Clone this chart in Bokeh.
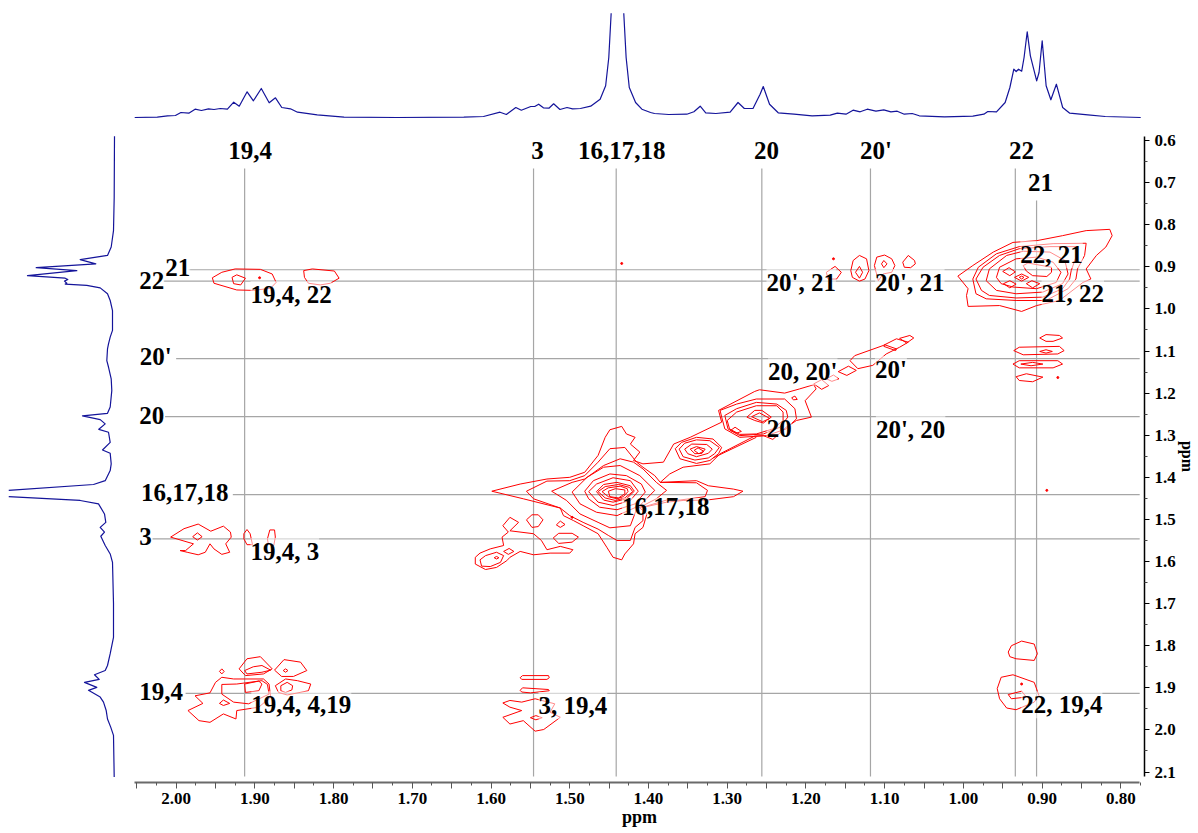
from math import nan
from bokeh.plotting import figure
from bokeh.layouts import column, row
from bokeh.models import (ColumnDataSource, FixedTicker, LabelSet, PrintfTickFormatter, Range1d, Spacer)
from bokeh.embed import file_html
from bokeh.resources import INLINE

# ---------- 1D projections: (ppm, intensity) ----------
top_ppm = [2.053,2.024,2.011,2.001,1.994,1.984,1.976,1.968,1.959,1.952,1.944,1.935,1.927,1.920,1.910,1.902,1.892,1.882,1.874,1.866,1.855,1.846,1.821,1.787,1.720,1.635,1.610,1.589,1.581,1.569,1.562,1.550,1.545,1.540,1.534,1.527,1.521,1.513,1.504,1.497,1.487,1.474,1.462,1.455,1.451,1.448,nan,1.432,1.429,1.425,1.417,1.409,1.398,1.393,1.375,1.352,1.343,1.335,1.328,1.315,1.297,1.287,1.279,1.268,1.259,1.255,1.247,1.236,1.216,1.193,1.170,1.161,1.150,1.141,1.132,1.123,1.112,1.102,1.093,1.085,1.076,1.066,1.057,1.025,0.989,0.975,0.970,0.959,0.948,0.942,0.937,0.934,0.931,0.927,0.924,0.920,0.916,0.908,0.905,0.901,0.896,0.890,0.883,0.875,0.866,0.843,0.821,0.776]
top_int = [0,0.3,1.7,2,5,4.3,8.3,7,8.7,8,9,8.3,15.3,11.3,25.7,16.7,29,14.7,19.7,10,8.7,5.3,2.7,0.3,0,0.3,1,5.3,3,10,7.3,11,11,13.3,9.7,9.3,13.7,8,10,8.7,9,11.3,18.3,31.7,60,104.3,nan,104.3,60,30,15,8.3,5,4,3,3.3,5.7,11.3,4.7,4,5.3,15,9,9,23.3,31,13.3,4.7,3.3,1.7,2.3,4.3,3.3,7.3,5.7,8.3,6.3,7.7,5.7,6.3,3.3,4,1.7,0.7,1.3,3.3,6,5.7,15,30,48.3,46,48.3,46.3,60,85.7,61.7,36.7,45,76.7,31.7,17.7,33.3,10,4.3,2.7,1,0]

left_ppm = [0.590,0.735,0.814,0.853,0.873,0.883,0.893,0.902,0.909,0.921,0.927,0.930,0.934,0.939,0.941,0.944,0.950,0.964,0.980,1.004,1.051,1.067,1.083,1.095,1.123,1.138,1.166,1.194,1.233,1.248,1.254,1.263,1.273,1.286,1.293,1.317,1.335,1.343,1.368,1.384,1.408,1.417,1.431,nan,1.446,1.455,1.463,1.487,1.507,1.519,1.530,1.540,1.562,1.582,1.602,1.700,1.780,1.819,1.847,1.859,1.869,1.880,1.887,1.899,1.906,1.922,1.934,1.954,1.974,1.994,2.013,2.112]
left_int = [0,0.3,1,3.3,7,34.3,18.7,78.3,37.7,87,49.3,46.7,50,47.7,49.3,27.7,14.3,7,4.3,2,2,4.3,6,7,7.7,6,3.3,2.7,4.3,7,32,14.3,9.3,15.7,6,4.3,12,4.3,3.3,4.3,9.3,21,106,nan,106,34.3,16,10,8.7,14.3,10,13.7,9.3,4.3,2,1,1,4.3,7,9.3,20,15.3,30,17.7,26,14.3,11,8.3,7,3.7,1,0.3]

# ---------- Contours, (F2 ppm, F1 ppm) ----------
cross_161718 = [
 [(1.599,1.433),(1.563,1.416),(1.529,1.404),(1.500,1.400),(1.481,1.388),(1.464,1.348),(1.455,1.305),(1.449,1.287),(1.434,1.279),(1.428,1.297),(1.417,1.305),(1.423,1.321),(1.411,1.340),(1.419,1.360),(1.407,1.368),(1.381,1.364),(1.368,1.321),(1.347,1.305),(1.307,1.269),(1.311,1.241),(1.265,1.196),(1.259,1.192),(1.227,1.200),(1.208,1.190),(1.190,1.180),(1.187,1.190),(1.201,1.218),(1.193,1.257),(1.212,1.265),(1.225,1.281),(1.242,1.310),(1.254,1.301),(1.265,1.302),(1.309,1.344),(1.322,1.368),(1.356,1.376),(1.373,1.392),(1.385,1.412),(1.339,1.408),(1.324,1.420),(1.292,1.428),(1.280,1.433),(1.292,1.446),(1.326,1.454),(1.356,1.455),(1.377,1.459),(1.411,1.473),(1.402,1.487),(1.407,1.519),(1.417,1.534),(1.419,1.558),(1.430,1.582),(1.434,1.596),(1.445,1.590),(1.453,1.566),(1.464,1.534),(1.483,1.515),(1.495,1.503),(1.508,1.491),(1.512,1.473),(1.559,1.451),(1.599,1.433)],
 [(1.555,1.433),(1.529,1.409),(1.500,1.408),(1.481,1.396),(1.464,1.364),(1.449,1.332),(1.430,1.329),(1.415,1.364),(1.407,1.376),(1.392,1.396),(1.385,1.412),(1.339,1.413),(1.325,1.431),(1.328,1.446),(1.360,1.454),(1.377,1.454),(1.407,1.471),(1.407,1.503),(1.417,1.519),(1.423,1.550),(1.440,1.550),(1.451,1.538),(1.464,1.523),(1.483,1.507),(1.500,1.491),(1.512,1.473),(1.546,1.451),(1.555,1.433)],
 [(1.523,1.433),(1.497,1.412),(1.481,1.404),(1.457,1.372),(1.436,1.356),(1.419,1.364),(1.407,1.380),(1.390,1.412),(1.377,1.431),(1.390,1.451),(1.415,1.475),(1.423,1.515),(1.449,1.520),(1.464,1.507),(1.487,1.487),(1.504,1.455),(1.523,1.433)],
 [(1.497,1.435),(1.478,1.400),(1.457,1.376),(1.436,1.372),(1.411,1.396),(1.392,1.431),(1.411,1.467),(1.440,1.491),(1.466,1.483),(1.487,1.463),(1.497,1.435)],
 [(1.481,1.433),(1.470,1.408),(1.449,1.392),(1.428,1.396),(1.409,1.416),(1.404,1.435),(1.417,1.463),(1.440,1.477),(1.462,1.471),(1.476,1.451),(1.481,1.433)],
 [(1.476,1.434),(1.466,1.416),(1.445,1.401),(1.423,1.408),(1.413,1.433),(1.423,1.455),(1.445,1.467),(1.464,1.459),(1.476,1.434)],
 [(1.466,1.434),(1.457,1.417),(1.440,1.412),(1.423,1.420),(1.418,1.433),(1.428,1.451),(1.445,1.459),(1.457,1.454),(1.466,1.434)],
 [(1.464,1.434),(1.455,1.422),(1.438,1.417),(1.424,1.424),(1.420,1.434),(1.430,1.449),(1.442,1.455),(1.455,1.449),(1.464,1.434)],
 [(1.459,1.434),(1.451,1.425),(1.436,1.421),(1.427,1.427),(1.426,1.434),(1.432,1.446),(1.440,1.451),(1.451,1.446),(1.459,1.434)],
 [(1.451,1.433),(1.442,1.427),(1.430,1.430),(1.430,1.439),(1.438,1.449),(1.449,1.446),(1.451,1.433)],
]
region_h3 = [
 [(1.620,1.590),(1.614,1.580),(1.601,1.570),(1.584,1.562),(1.586,1.542),(1.578,1.530),(1.585,1.515),(1.576,1.495),(1.565,1.507),(1.576,1.527),(1.546,1.534),(1.536,1.550),(1.529,1.572),(1.512,1.564),(1.496,1.572),(1.500,1.580),(1.525,1.580),(1.546,1.584),(1.563,1.576),(1.576,1.590),(1.580,1.598),(1.593,1.614),(1.607,1.619),(1.620,1.606),(1.620,1.590)],
 [(1.555,1.501),(1.548,1.489),(1.540,1.489),(1.534,1.501),(1.540,1.517),(1.548,1.519),(1.555,1.501)],
 [(1.517,1.513),(1.512,1.504),(1.506,1.512),(1.512,1.519),(1.517,1.513)],
 [(1.521,1.544),(1.514,1.533),(1.497,1.533),(1.489,1.542),(1.497,1.554),(1.514,1.557),(1.521,1.544)],
 [(1.584,1.576),(1.577,1.569),(1.571,1.576),(1.578,1.583),(1.584,1.576)],
 [(1.614,1.596),(1.607,1.586),(1.593,1.578),(1.584,1.586),(1.588,1.602),(1.601,1.612),(1.612,1.611),(1.614,1.596)],
 [(1.596,1.591),(1.593,1.588),(1.590,1.591),(1.593,1.594),(1.596,1.591)],
]
blob_20 = [
 [(1.309,1.241),(1.288,1.226),(1.263,1.214),(1.227,1.214),(1.214,1.237),(1.212,1.261),(1.225,1.285),(1.250,1.301),(1.284,1.305),(1.303,1.285),(1.307,1.257),(1.309,1.241)],
 [(1.303,1.253),(1.288,1.237),(1.263,1.222),(1.237,1.226),(1.225,1.241),(1.223,1.257),(1.233,1.281),(1.254,1.297),(1.284,1.301),(1.299,1.285),(1.303,1.253)],
 [(1.300,1.265),(1.288,1.245),(1.263,1.230),(1.237,1.230),(1.229,1.245),(1.229,1.265),(1.242,1.285),(1.263,1.297),(1.284,1.298),(1.297,1.285),(1.300,1.265)],
 [(1.275,1.257),(1.265,1.241),(1.256,1.241),(1.244,1.257),(1.254,1.271),(1.265,1.265),(1.275,1.257)],
 [(1.269,1.256),(1.259,1.247),(1.246,1.260),(1.255,1.268),(1.269,1.256)],
 [(1.296,1.289),(1.290,1.281),(1.282,1.291),(1.288,1.295),(1.296,1.289)],
 [(1.218,1.211),(1.214,1.207),(1.211,1.215),(1.216,1.216),(1.218,1.211)],
 [(1.318,1.354),(1.263,1.305)],
]
blob_134 = [
 [(1.366,1.332),(1.358,1.317),(1.339,1.305),(1.318,1.309),(1.307,1.329),(1.311,1.344),(1.322,1.360),(1.339,1.367),(1.360,1.356),(1.366,1.332)],
 [(1.361,1.333),(1.354,1.319),(1.339,1.311),(1.322,1.313),(1.310,1.329),(1.316,1.344),(1.324,1.354),(1.341,1.359),(1.356,1.351),(1.361,1.333)],
 [(1.354,1.333),(1.345,1.321),(1.326,1.322),(1.319,1.333),(1.324,1.343),(1.339,1.351),(1.350,1.344),(1.354,1.333)],
 [(1.347,1.333),(1.339,1.327),(1.328,1.333),(1.332,1.343),(1.341,1.344),(1.347,1.333)],
 [(1.342,1.336),(1.337,1.330),(1.330,1.338),(1.336,1.344),(1.342,1.336)],
]
diagonal_20p = [
 [(1.144,1.123),(1.138,1.111),(1.102,1.087),(1.085,1.071),(1.070,1.079),(1.081,1.091),(1.098,1.107),(1.115,1.134),(1.134,1.142),(1.144,1.123)],
 [(1.100,1.085),(1.085,1.095),(1.086,1.099),(1.101,1.089),(1.100,1.085)],
 [(1.081,1.070),(1.068,1.063),(1.063,1.069),(1.072,1.081),(1.081,1.070)],
 [(1.159,1.149),(1.146,1.136),(1.136,1.146),(1.148,1.158),(1.159,1.149)],
 [(1.174,1.166),(1.165,1.157),(1.158,1.166),(1.167,1.172),(1.174,1.166)],
 [(1.190,1.178),(1.180,1.168),(1.171,1.182),(1.180,1.191),(1.190,1.178)],
]
cross_2021 = [
 [(1.143,0.909),(1.140,0.885),(1.132,0.873),(1.123,0.881),(1.120,0.909),(1.125,0.929),(1.132,0.934),(1.141,0.925),(1.143,0.909)],
 [(1.137,0.913),(1.132,0.899),(1.128,0.913),(1.132,0.927),(1.137,0.913)],
 [(1.113,0.897),(1.110,0.877),(1.100,0.872),(1.091,0.881),(1.087,0.897),(1.091,0.913),(1.102,0.917),(1.108,0.933),(1.113,0.897)],
 [(1.104,0.893),(1.101,0.885),(1.097,0.893),(1.101,0.902),(1.104,0.893)],
 [(1.077,0.889),(1.070,0.873),(1.062,0.885),(1.061,0.893),(1.067,0.902),(1.075,0.901),(1.077,0.889)],
 [(1.174,0.913),(1.163,0.899),(1.155,0.913),(1.161,0.929),(1.172,0.929),(1.174,0.913)],
]
peak_2221 = [
 [(1.007,0.922),(0.988,0.897),(0.962,0.865),(0.937,0.842),(0.907,0.838),(0.874,0.826),(0.844,0.814),(0.814,0.811),(0.811,0.826),(0.819,0.853),(0.831,0.873),(0.844,0.905),(0.838,0.929),(0.848,0.937),(0.878,0.980),(0.907,0.992),(0.926,1.006),(0.954,0.992),(0.994,0.994),(0.996,0.968),(0.994,0.952),(1.007,0.922)],
 [(0.988,0.929),(0.981,0.901),(0.958,0.869),(0.929,0.852),(0.886,0.845),(0.844,0.844),(0.846,0.873),(0.855,0.905),(0.857,0.929),(0.867,0.952),(0.895,0.980),(0.933,0.980),(0.971,0.976),(0.984,0.964),(0.988,0.929)],
 [(0.984,0.929),(0.975,0.901),(0.954,0.873),(0.929,0.857),(0.890,0.852),(0.855,0.852),(0.857,0.877),(0.863,0.909),(0.865,0.929),(0.874,0.952),(0.899,0.972),(0.933,0.974),(0.967,0.968),(0.977,0.956),(0.984,0.929)],
 [(0.971,0.933),(0.967,0.905),(0.945,0.873),(0.924,0.863),(0.890,0.865),(0.871,0.885),(0.867,0.917),(0.874,0.940),(0.899,0.960),(0.933,0.964),(0.958,0.956),(0.971,0.933)],
 [(0.958,0.925),(0.954,0.901),(0.933,0.881),(0.907,0.877),(0.886,0.889),(0.876,0.913),(0.882,0.937),(0.907,0.952),(0.937,0.948),(0.952,0.940),(0.958,0.925)],
 [(0.924,0.897),(0.918,0.891),(0.888,0.901),(0.888,0.913),(0.894,0.923),(0.912,0.921),(0.920,0.910),(0.924,0.897)],
 [(0.950,0.911),(0.942,0.902),(0.934,0.912),(0.941,0.921),(0.950,0.911)],
 [(0.949,0.940),(0.941,0.933),(0.933,0.941),(0.941,0.950),(0.949,0.940)],
 [(0.935,0.925),(0.926,0.917),(0.917,0.925),(0.926,0.934),(0.935,0.925)],
 [(0.929,0.925),(0.926,0.922),(0.923,0.925),(0.926,0.929),(0.929,0.925)],
 [(0.920,0.940),(0.913,0.933),(0.903,0.940),(0.912,0.950),(0.920,0.940)],
]
column_22_20p = [
 [(0.903,1.069),(0.895,1.061),(0.878,1.063),(0.874,1.069),(0.886,1.077),(0.895,1.077),(0.903,1.069)],
 [(0.936,1.099),(0.929,1.091),(0.878,1.089),(0.872,1.099),(0.880,1.107),(0.924,1.109),(0.936,1.099)],
 [(0.903,1.101),(0.895,1.097),(0.887,1.101),(0.895,1.105),(0.903,1.101)],
 [(0.937,1.131),(0.929,1.123),(0.880,1.123),(0.874,1.131),(0.886,1.140),(0.929,1.140),(0.937,1.131)],
 [(0.927,1.131),(0.912,1.127),(0.899,1.131),(0.914,1.135),(0.927,1.131)],
 [(0.933,1.161),(0.920,1.154),(0.899,1.162),(0.912,1.173),(0.929,1.170),(0.933,1.161)],
]
column_194_upper = [
 [(1.954,0.926),(1.942,0.913),(1.925,0.905),(1.893,0.906),(1.878,0.917),(1.873,0.937),(1.880,0.951),(1.902,0.956),(1.923,0.955),(1.952,0.939),(1.954,0.926)],
 [(1.929,0.925),(1.923,0.919),(1.912,0.927),(1.918,0.943),(1.927,0.940),(1.929,0.925)],
 [(1.838,0.909),(1.827,0.905),(1.799,0.910),(1.793,0.927),(1.804,0.939),(1.817,0.943),(1.832,0.939),(1.837,0.925),(1.838,0.909)],
 [(2.007,1.542),(1.990,1.522),(1.972,1.511),(1.956,1.528),(1.940,1.516),(1.931,1.530),(1.930,1.542),(1.937,1.558),(1.932,1.578),(1.942,1.583),(1.952,1.570),(1.957,1.558),(1.963,1.578),(1.972,1.584),(1.986,1.578),(1.995,1.574),(1.988,1.574),(1.978,1.558),(2.007,1.542)],
 [(1.979,1.541),(1.973,1.532),(1.967,1.541),(1.973,1.549),(1.979,1.541)],
 [(1.914,1.534),(1.910,1.524),(1.906,1.534),(1.903,1.560),(1.910,1.560),(1.914,1.546),(1.914,1.534)],
 [(1.884,1.546),(1.881,1.525),(1.875,1.525),(1.874,1.542),(1.876,1.562),(1.883,1.558),(1.884,1.546)],
]
column_194_lower = [
 [(1.920,1.855),(1.910,1.831),(1.893,1.826),(1.878,1.855),(1.889,1.867),(1.912,1.871),(1.920,1.855)],
 [(1.913,1.859),(1.902,1.850),(1.891,1.847),(1.880,1.858),(1.891,1.863),(1.910,1.867),(1.913,1.859)],
 [(1.875,1.858),(1.863,1.833),(1.842,1.839),(1.834,1.859),(1.851,1.873),(1.866,1.873),(1.875,1.858)],
 [(1.864,1.859),(1.861,1.855),(1.858,1.859),(1.861,1.863),(1.864,1.859)],
 [(1.874,1.895),(1.861,1.879),(1.846,1.883),(1.829,1.891),(1.832,1.907),(1.859,1.917),(1.870,1.911),(1.874,1.895)],
 [(1.867,1.895),(1.859,1.887),(1.852,1.895),(1.853,1.905),(1.861,1.911),(1.867,1.907),(1.867,1.895)],
 [(1.913,1.891),(1.895,1.884),(1.891,1.891),(1.895,1.907),(1.912,1.911),(1.913,1.891)],
 [(1.985,1.954),(1.966,1.937),(1.976,1.919),(1.957,1.912),(1.950,1.887),(1.942,1.875),(1.927,1.879),(1.889,1.879),(1.882,1.891),(1.880,1.922),(1.895,1.946),(1.923,1.954),(1.924,1.974),(1.940,1.962),(1.957,1.982),(1.971,1.978),(1.985,1.954)],
 [(1.942,1.892),(1.923,1.891),(1.891,1.883),(1.884,1.892),(1.882,1.915),(1.908,1.938),(1.927,1.934),(1.942,1.915),(1.942,1.892)],
 [(1.945,1.937),(1.940,1.929),(1.932,1.937),(1.940,1.942),(1.945,1.937)],
 [(1.945,1.861),(1.942,1.855),(1.939,1.861),(1.942,1.867),(1.945,1.861)],
]
column_3_lower = [
 [(1.563,1.876),(1.560,1.871),(1.527,1.871),(1.526,1.876),(1.529,1.880),(1.561,1.880),(1.563,1.876)],
 [(1.563,1.906),(1.560,1.900),(1.527,1.904),(1.526,1.907),(1.550,1.912),(1.561,1.910),(1.563,1.906)],
 [(1.585,1.936),(1.576,1.930),(1.561,1.934),(1.544,1.926),(1.519,1.938),(1.525,1.958),(1.512,1.970),(1.533,1.999),(1.544,2.003),(1.559,1.978),(1.576,1.986),(1.585,1.970),(1.561,1.954),(1.576,1.946),(1.585,1.936)],
 [(1.550,1.971),(1.543,1.966),(1.535,1.971),(1.543,1.976),(1.550,1.971)],
]
column_22_lower = [
 [(0.943,1.815),(0.939,1.800),(0.926,1.789),(0.910,1.796),(0.906,1.819),(0.910,1.835),(0.933,1.831),(0.941,1.826),(0.943,1.815)],
 [(0.957,1.902),(0.952,1.875),(0.937,1.869),(0.910,1.887),(0.904,1.918),(0.910,1.934),(0.933,1.952),(0.945,1.948),(0.954,1.926),(0.957,1.902)],
 [(0.943,1.916),(0.926,1.908),(0.920,1.922),(0.939,1.926),(0.943,1.916)],
]
dots_f2 = [1.434, 0.894, 1.165, 0.880, 1.497, 0.926, 1.894]
dots_f1 = [0.892, 1.431, 0.881, 1.163, 1.495, 1.891, 0.926]

# ---------- Assignments ----------
v_guides_ppm = [1.913, 1.546, 1.441, 1.256, 1.118, 0.934, 0.907]
v_guides_top = [0.6665, 0.6665, 0.6665, 0.6665, 0.6665, 0.6665, 0.7425]
h_guides_ppm = [0.907, 0.934, 1.118, 1.256, 1.441, 1.546, 1.913]
h_guides_left = [1.984, 2.016, 2.000, 2.014, 1.928, 2.030, 1.988]

label_text = ["19,4","3","16,17,18","20","20'","22","21",
              "21","22","20'","20","16,17,18","3","19,4",
              "19,4, 22","20', 21","20', 21","22, 21","21, 22","20, 20'","20'","20","20', 20",
              "16,17,18","19,4, 3","19,4, 4,19","3, 19,4","22, 19,4"]
label_f2 = [1.906,1.541,1.434,1.250,1.111,0.926,0.902,
            1.998,2.031,2.026,2.031,1.989,2.039,2.019,
            1.854,1.206,1.068,0.888,0.861,1.204,1.092,1.234,1.067,
            1.378,1.862,1.841,1.496,0.875]
label_f1 = [0.624,0.624,0.624,0.624,0.624,0.624,0.700,
            0.902,0.933,1.113,1.253,1.436,1.541,1.909,
            0.966,0.937,0.937,0.871,0.963,1.149,1.144,1.284,1.286,
            1.469,1.576,1.940,1.942,1.940]

x_tick_labels = {2.0:"2.00",1.9:"1.90",1.8:"1.80",1.7:"1.70",1.6:"1.60",1.5:"1.50",1.4:"1.40",
                 1.3:"1.30",1.2:"1.20",1.1:"1.10",1.0:"1.00",0.9:"0.90",0.8:"0.80"}
x_mid_ticks = [2.05,1.95,1.85,1.75,1.65,1.55,1.45,1.35,1.25,1.15,1.05,0.95,0.85]
x_minor_ticks = [2.025,1.975,1.925,1.875,1.825,1.775,1.725,1.675,1.625,1.575,1.525,1.475,1.425,1.375,1.325,1.275,1.225,1.175,1.125,1.075,1.025,0.975,0.925,0.875,0.825,0.775]
y_ticks = [0.6,0.7,0.8,0.9,1.0,1.1,1.2,1.3,1.4,1.5,1.6,1.7,1.8,1.9,2.0,2.1]
y_minor_ticks = [0.65,0.75,0.85,0.95,1.05,1.15,1.25,1.35,1.45,1.55,1.65,1.75,1.85,1.95,2.05]

# ---------- Styling ----------
SERIF = "Liberation Serif"
RED = "#ff0000"
NAVY = "#14149a"
GUIDE = "#a6a6a6"

x_range = Range1d(2.0529, 0.7699)
y_range = Range1d(2.1249, 0.5762)

main = figure(width=1064, height=703, x_range=x_range, y_range=y_range,
              y_axis_location="right", output_backend="svg", toolbar_location=None,
              min_border_left=0, min_border_top=0, min_border_right=53, min_border_bottom=51,
              outline_line_color=None, background_fill_color="white")
main.grid.visible = False

# axes
xa = main.xaxis[0]
xa.ticker = FixedTicker(ticks=list(x_tick_labels) + x_mid_ticks, minor_ticks=x_minor_ticks)
overrides = dict(x_tick_labels)
overrides.update({t: "" for t in x_mid_ticks})
xa.major_label_overrides = overrides
xa.bounds = (0.776, 2.0529)
xa.axis_line_color = "#6a6a6a"
xa.axis_line_width = 2
xa.major_tick_line_color = "#555555"
xa.minor_tick_line_color = "#555555"
xa.major_tick_out = 6
xa.major_tick_in = 0
xa.minor_tick_out = 3
xa.minor_tick_in = 0
xa.major_label_standoff = 4
xa.major_label_text_font = SERIF
xa.major_label_text_font_style = "bold"
xa.major_label_text_font_size = "17px"
xa.major_label_text_color = "black"
xa.axis_label = "ppm"
xa.axis_label_standoff = 0
xa.axis_label_text_font = SERIF
xa.axis_label_text_font_style = "bold"
xa.axis_label_text_font_size = "18px"
xa.axis_label_text_color = "black"

ya = main.yaxis[0]
ya.ticker = FixedTicker(ticks=y_ticks, minor_ticks=y_minor_ticks)
ya.formatter = PrintfTickFormatter(format="%.1f")
ya.bounds = (0.5905, 2.1107)
ya.axis_line_color = "black"
ya.axis_line_width = 1.5
ya.major_tick_line_color = "black"
ya.minor_tick_line_color = "#444444"
ya.major_tick_out = 5
ya.major_tick_in = 0
ya.minor_tick_out = 3
ya.minor_tick_in = 0
ya.major_label_standoff = 5
ya.major_label_text_font = SERIF
ya.major_label_text_font_style = "bold"
ya.major_label_text_font_size = "17px"
ya.major_label_text_color = "black"
ya.axis_label = "ppm"
ya.axis_label_standoff = 0
ya.axis_label_text_font = SERIF
ya.axis_label_text_font_style = "bold"
ya.axis_label_text_font_size = "16px"
ya.axis_label_text_color = "black"

# guide lines
main.segment(x0=v_guides_ppm, x1=v_guides_ppm, y0=v_guides_top, y1=[2.1107] * len(v_guides_ppm),
             line_color=GUIDE, line_width=1.2)
main.segment(x0=h_guides_left, x1=[0.776] * len(h_guides_ppm), y0=h_guides_ppm, y1=h_guides_ppm,
             line_color=GUIDE, line_width=1.2)

# contours
for group in (cross_161718, region_h3, blob_20, blob_134, diagonal_20p, cross_2021, peak_2221,
              column_22_20p, column_194_upper, column_194_lower, column_3_lower, column_22_lower):
    main.multi_line(xs=[[pt[0] for pt in c] for c in group],
                    ys=[[pt[1] for pt in c] for c in group],
                    line_color=RED, line_width=1, line_join="round")
main.scatter(x=dots_f2, y=dots_f1, size=2, marker="circle", color=RED)

# assignment labels
labels = LabelSet(x="x", y="y", text="t",
                  source=ColumnDataSource(dict(x=label_f2, y=label_f1, t=label_text)),
                  text_font=SERIF, text_font_style="bold", text_font_size="25px",
                  text_color="black", text_align="center", text_baseline="middle",
                  background_fill_color="white", background_fill_alpha=0.55)
main.add_layout(labels)

# top projection
top = figure(width=1064, height=122, x_range=x_range, y_range=Range1d(-13, 109),
             output_backend="svg", toolbar_location=None,
             min_border_left=0, min_border_top=0, min_border_right=53, min_border_bottom=0,
             outline_line_color=None)
top.axis.visible = False
top.grid.visible = False
top.line(top_ppm, top_int, line_color=NAVY, line_width=1.2, line_join="round")

# left projection
left = figure(width=126, height=703, x_range=Range1d(106, -20), y_range=y_range,
              output_backend="svg", toolbar_location=None,
              min_border_left=0, min_border_top=0, min_border_right=0, min_border_bottom=51,
              outline_line_color=None)
left.axis.visible = False
left.grid.visible = False
left.line(left_int, left_ppm, line_color=NAVY, line_width=1.2, line_join="round")

page = column(row(Spacer(width=126, height=122), top), row(left, main), margin=(8, 0, 0, 8))
open("out.html", "w").write(file_html(page, INLINE))
